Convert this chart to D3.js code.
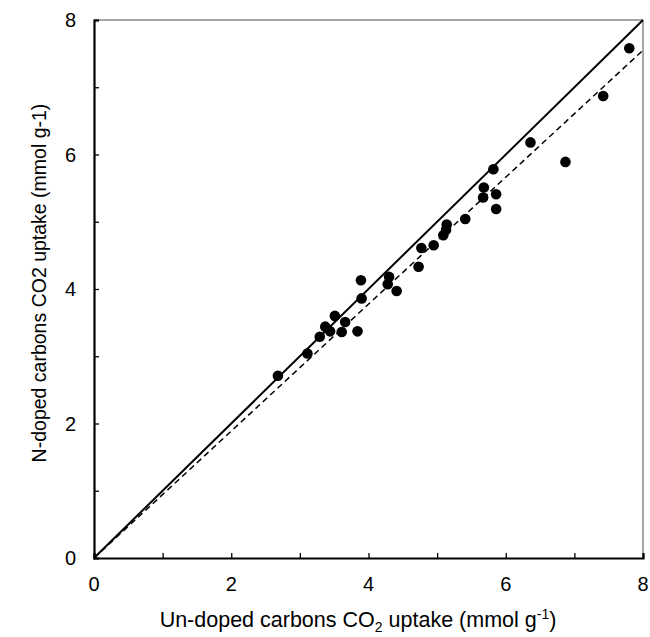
<!DOCTYPE html>
<html><head><meta charset="utf-8">
<script src="https://cdn.jsdelivr.net/npm/d3@7"></script>
<style>body{margin:0;background:#fff}svg{display:block}text{font-family:"Liberation Sans",Arial,sans-serif;fill:#000}</style>
</head><body>
<svg id="c" width="650" height="637"></svg>
<script>
const undoped = [2.68,3.11,3.29,3.37,3.44,3.51,3.61,3.66,3.84,3.89,3.90,4.28,4.30,4.41,4.73,4.77,4.95,5.09,5.13,5.14,5.41,5.67,5.68,5.82,5.86,5.86,6.36,6.87,7.42,7.80];
const ndoped  = [2.71,3.04,3.29,3.44,3.37,3.60,3.36,3.51,3.37,4.13,3.86,4.07,4.18,3.97,4.33,4.61,4.65,4.80,4.88,4.96,5.04,5.36,5.51,5.78,5.41,5.19,6.18,5.89,6.87,7.58];
const ticks = [0,2,4,6,8];
const minorTicks = [0,1,2,3,4,5,6,7,8];
const parityLine = [[0,0],[8,8]];
const fitLine = [[0,0],[8,7.55]];

const svg = d3.select("#c");
const m = {l:94, r:643, t:20, b:558};
const x = d3.scaleLinear().domain([0,8]).range([m.l,m.r]);
const y = d3.scaleLinear().domain([0,8]).range([m.b,m.t]);

svg.append("line").attr("x1",x(0)).attr("x2",x(8)).attr("y1",y(8)).attr("y2",y(8)).attr("stroke","#888").attr("stroke-width",1.5);
svg.append("line").attr("x1",x(8)).attr("x2",x(8)).attr("y1",y(0)).attr("y2",y(8)).attr("stroke","#888").attr("stroke-width",1.5);

const line = d3.line().x(d=>x(d[0])).y(d=>y(d[1]));
svg.append("path").attr("d",line(fitLine)).attr("stroke","#000").attr("stroke-width",1.5).attr("stroke-dasharray","6,4").attr("fill","none");
svg.append("path").attr("d",line(parityLine)).attr("stroke","#000").attr("stroke-width",2).attr("fill","none");

const xa = svg.append("g").attr("transform",`translate(0,${m.b})`)
  .call(d3.axisBottom(x).tickValues(minorTicks).tickSize(-5).tickFormat(""));
const ya = svg.append("g").attr("transform",`translate(${m.l},0)`)
  .call(d3.axisLeft(y).tickValues(minorTicks).tickSize(-5).tickFormat(""));
[xa,ya].forEach(g=>{g.select(".domain").attr("stroke","#000").attr("stroke-width",2.2);g.selectAll(".tick line").attr("stroke","#000").attr("stroke-width",1.3);});

svg.append("g").selectAll("text").data(ticks).join("text")
  .attr("x",d=>x(d)).attr("y",m.b+33).attr("text-anchor","middle").attr("font-size",20).text(d=>d);
svg.append("g").selectAll("text").data(ticks).join("text")
  .attr("x",76).attr("y",d=>y(d)+7).attr("text-anchor","end").attr("font-size",20).text(d=>d);

svg.append("g").selectAll("circle").data(undoped).join("circle")
  .attr("cx",d=>x(d)).attr("cy",(d,i)=>y(ndoped[i])).attr("r",5.3).attr("fill","#000");

const xl = svg.append("text").attr("x",358).attr("y",627).attr("text-anchor","middle").attr("font-size",21.5);
xl.append("tspan").text("Un-doped carbons CO");
xl.append("tspan").attr("font-size",14).attr("dy",5).text("2");
xl.append("tspan").attr("dy",-5).text(" uptake (mmol g");
xl.append("tspan").attr("font-size",14).attr("dy",-8).text("-1");
xl.append("tspan").attr("dy",8).text(")");
svg.append("text").attr("transform",`translate(46,283) rotate(-90)`).attr("text-anchor","middle").attr("font-size",19.5)
  .text("N-doped carbons CO2 uptake (mmol g-1)");
</script></body></html>
